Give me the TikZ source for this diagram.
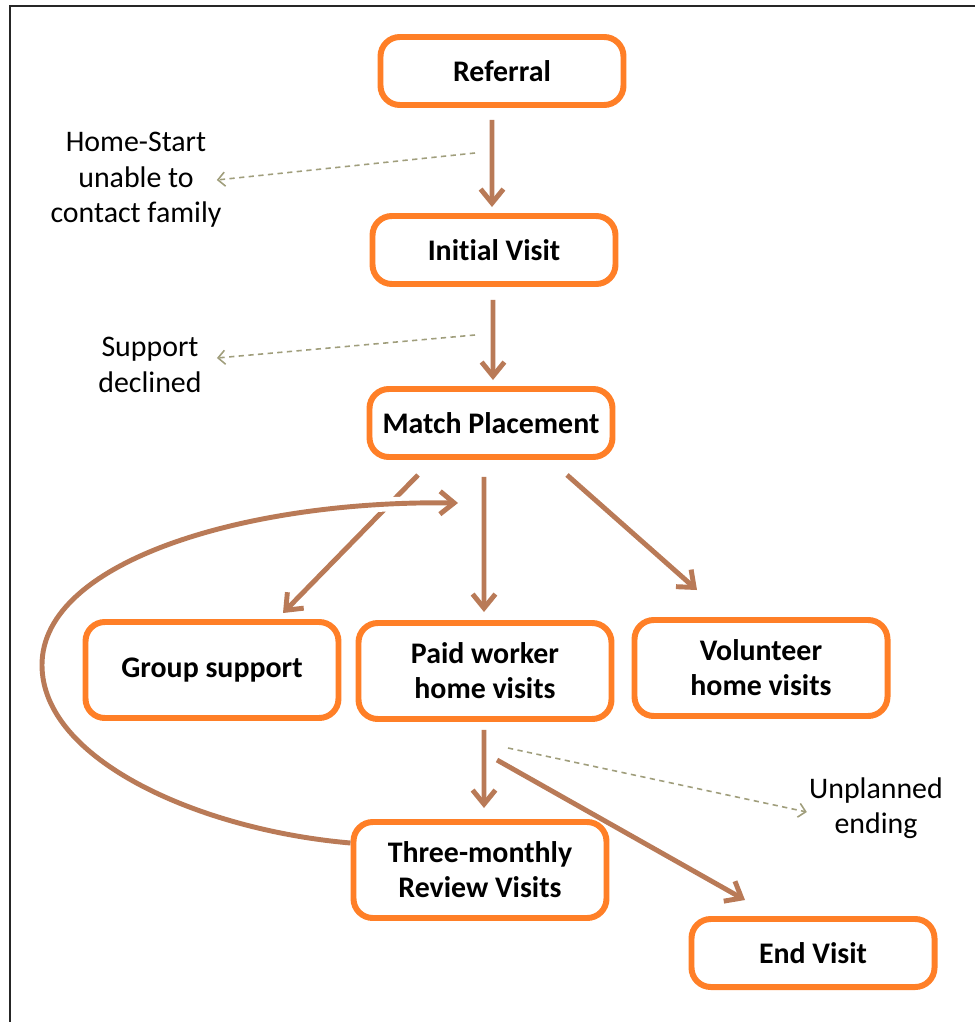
\documentclass[tikz,border=0pt]{standalone}
\usepackage{fontspec}
\setmainfont{Carlito}[Ligatures=NoCommon]
\usepackage{tikz}
\usetikzlibrary{arrows.meta}
\definecolor{boxorange}{RGB}{255,127,39}
\definecolor{flowbrown}{RGB}{185,122,87}
\definecolor{exitgrey}{RGB}{160,158,124}
\tikzset{
  stage/.style={rectangle, rounded corners=11pt, draw=boxorange, line width=3.4pt, fill=white,
    minimum width=4.86cm, minimum height=1.36cm, align=center,
    font=\fontsize{17}{20}\selectfont\bfseries},
  bigstage/.style={stage, minimum width=5.06cm, minimum height=1.92cm},
  flow/.style={draw=flowbrown, line width=2.8pt, -{Straight Barb[length=8pt,width=13pt]}},
  exitline/.style={draw=exitgrey, line width=0.9pt, dash pattern=on 3pt off 2.5pt,
    -{Straight Barb[length=4pt,width=8pt]}},
  note/.style={align=center, inner sep=0pt, font=\fontsize{17}{20.2}\selectfont},
  frameline/.style={draw=black!85, line width=1.2pt}
}

\begin{document}
\begin{tikzpicture}
  \useasboundingbox (0,0) rectangle (19.5,-20.44);
  \draw[frameline] (0.2,-20.44) |- (19.5,-0.12);

  % Stages
  \node[stage] (ref) at (10.04,-1.42) {Referral};
  \node[stage] (init) at (9.88,-5.0) {Initial Visit};
  \node[stage] (match) at (9.82,-8.46) {Match Placement};
  \node[bigstage] (group) at (4.24,-13.4) {Group support};
  \node[bigstage] (paid) at (9.70,-13.42) {Paid worker\\home visits};
  \node[bigstage] (vol) at (15.22,-13.36) {Volunteer\\home visits};
  \node[bigstage] (review) at (9.60,-17.4) {Three-monthly\\Review Visits};
  \node[stage] (endv) at (16.26,-19.06) {End Visit};

  % Exit notes
  \node[note] (nocontact) at (2.72,-3.6) {Home-Start\\unable to\\contact family};
  \node[note] (declined) at (3.0,-7.3) {Support\\declined};
  \node[note] (unplanned) at (17.52,-16.16) {Unplanned\\ending};

  % Main flow
  \draw[flow] ([shift={(-0.2,-0.24)}]ref.south) -- ([shift={(-0.04,0.12)}]init.north);
  \draw[flow] ([shift={(-0.02,-0.26)}]init.south) -- ([shift={(0.04,0.12)}]match.north);
  \draw[flow] ([shift={(-1.46,-0.3)}]match.south) -- ([shift={(1.42,0.12)}]group.north);
  \draw[flow] ([shift={(-0.14,-0.34)}]match.south) -- ([shift={(-0.02,0.16)}]paid.north);
  \draw[flow] ([shift={(1.52,-0.3)}]match.south) -- ([shift={(-1.28,0.54)}]vol.north);
  \draw[flow] ([shift={(-0.02,-0.16)}]paid.south) -- ([shift={(0.08,0.22)}]review.north);
  \draw[flow] ([shift={(0.24,-0.76)}]paid.south) -- ([shift={(-1.36,0.32)}]endv.north);

  % Review loops back to placement
  \coordinate (loopleft) at (0.84,-13.3);
  \draw[white, line width=8pt, shorten <=2cm] ([yshift=0.54cm]review.west)
    .. controls (4.0,-16.6) and (0.84,-15.2) .. (loopleft)
    .. controls (0.84,-11.2) and (5.0,-10.0) .. ([shift={(-0.66,-0.86)}]match.south);
  \draw[flow] ([yshift=0.54cm]review.west)
    .. controls (4.0,-16.6) and (0.84,-15.2) .. (loopleft)
    .. controls (0.84,-11.2) and (5.0,-10.0) .. ([shift={(-0.66,-0.86)}]match.south);

  % Exits
  \coordinate (nc) at (9.5,-3.06);
  \coordinate (dc) at (9.5,-6.7);
  \coordinate (uc) at (10.16,-14.96);
  \draw[exitline] (nc) -- ([xshift=-0.1cm]nocontact.east);
  \draw[exitline] (dc) -- ([shift={(0.3,0.14)}]declined.east);
  \draw[exitline] (uc) -- ([shift={(-0.04,-0.08)}]unplanned.west);
\end{tikzpicture}
\end{document}
